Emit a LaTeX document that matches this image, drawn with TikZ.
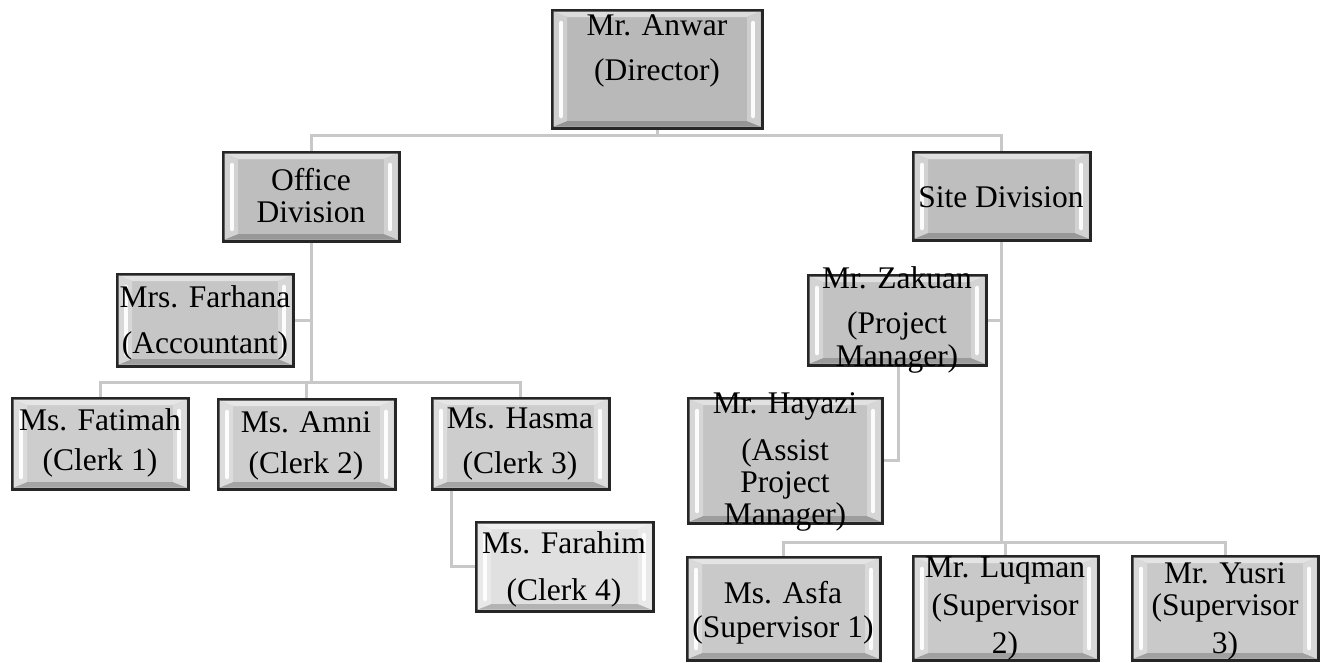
\documentclass[tikz,border=0pt]{standalone}
\usepackage{fontspec}
\setmainfont{Liberation Serif}
\usetikzlibrary{calc}
\definecolor{connc}{HTML}{C8C8C8}
\definecolor{dirc}{HTML}{B9B9B9}
\definecolor{divc}{HTML}{BEBEBE}
\definecolor{accc}{HTML}{C6C6C6}
\definecolor{clkc}{HTML}{CDCDCD}
\definecolor{clk4c}{HTML}{E0E0E0}
\definecolor{pmc}{HTML}{C2C2C2}
\definecolor{apmc}{HTML}{C4C4C4}
\definecolor{supc}{HTML}{C9C9C9}
\pgfdeclarelayer{bglayer}
\pgfdeclarelayer{connlayer}
\pgfsetlayers{bglayer,connlayer,main}
\tikzset{
  boxshape/.style={draw=black!85, line width=3pt, rectangle, inner sep=0pt, outer sep=0pt},
  connline/.style={draw=connc, line width=3pt},
  lbl/.style={anchor=base, inner sep=0pt, outer sep=0pt, font=\fontsize{31.5}{36}\selectfont, text=black},
}
\newcommand\orgbox[6]{%
  \node[boxshape, fill=#6, minimum width={#4-#2}, minimum height={#5-#3}] (#1) at ({(#2+#4)/2},{(#3+#5)/2}) {};
  \fill[#6!50!white] ($(#1.north west)+(1.5pt,-1.5pt)$) -- ($(#1.north east)+(-1.5pt,-1.5pt)$) -- ($(#1.north east)+(-15pt,-7pt)$) -- ($(#1.north west)+(15pt,-7pt)$) -- cycle;
  \fill[#6!80!black] ($(#1.south west)+(1.5pt,1.5pt)$) -- ($(#1.south east)+(-1.5pt,1.5pt)$) -- ($(#1.south east)+(-15pt,7pt)$) -- ($(#1.south west)+(15pt,7pt)$) -- cycle;
  \fill[#6!70!white] ($(#1.north west)+(1.5pt,-1.5pt)$) -- ($(#1.north west)+(15pt,-7pt)$) -- ($(#1.south west)+(15pt,7pt)$) -- ($(#1.south west)+(1.5pt,1.5pt)$) -- cycle;
  \fill[#6!70!white] ($(#1.north east)+(-1.5pt,-1.5pt)$) -- ($(#1.north east)+(-15pt,-7pt)$) -- ($(#1.south east)+(-15pt,7pt)$) -- ($(#1.south east)+(-1.5pt,1.5pt)$) -- cycle;
  \draw[white, line width=4.5pt, line cap=round, opacity=.95] ($(#1.north west)+(9pt,-13pt)$) -- ($(#1.south west)+(9pt,12pt)$);
  \draw[white, line width=4.5pt, line cap=round, opacity=.95] ($(#1.north east)+(-9pt,-13pt)$) -- ($(#1.south east)+(-9pt,12pt)$);
}
\newcommand\lbl[4]{\node[lbl] (#1) at (#2,#3) {#4};}
\begin{document}
\begin{tikzpicture}[x=1pt,y=-1pt]
\begin{pgfonlayer}{bglayer}
\fill[white] (0,0) rectangle (1325,662);
\end{pgfonlayer}
\useasboundingbox (0,0) rectangle (1325,662);
% boxes
\orgbox{dir}{552}{10}{762}{128}{dirc}
\orgbox{off}{223}{152}{399}{241}{divc}
\orgbox{site}{913}{152}{1090}{240}{divc}
\orgbox{farh}{117}{274}{293}{366}{accc}
\orgbox{fat}{12}{398}{188}{489}{clkc}
\orgbox{amni}{218}{399}{395}{489}{clkc}
\orgbox{hasma}{432}{398}{609}{489}{clkc}
\orgbox{farah}{476}{522}{653}{611}{clk4c}
\orgbox{zak}{808}{275}{986}{365}{pmc}
\orgbox{hay}{688}{398}{882}{523}{apmc}
\orgbox{asfa}{687}{557}{880}{660}{supc}
\orgbox{luq}{913}{556}{1098}{660}{supc}
\orgbox{yus}{1132}{556}{1318}{660}{supc}
% connectors
\begin{pgfonlayer}{connlayer}
\draw[connline] (dir.south) -- ++(0,7) coordinate (dbus);
\draw[connline] (off.north) |- (dbus) -| (site.north);
\coordinate (obus) at (311,382);
\draw[connline] (off.south) -- (off.south |- obus);
\draw[connline] (farh.east) -- (farh.east -| off.south);
\draw[connline] (fat.north) -- (fat.north |- obus) -- (hasma.north |- obus) -- (hasma.north);
\draw[connline] (amni.north) -- (amni.north |- obus);
\draw[connline] ($(hasma.south west)+(19pt,0)$) |- (farah.west);
\coordinate (sbus) at (1003,542);
\draw[connline] (site.south) -- (site.south |- sbus);
\draw[connline] (zak.east) -- (zak.east -| site.south);
\draw[connline] ($(zak.south west)+(90pt,0)$) |- (hay.east);
\draw[connline] (asfa.north) -- (asfa.north |- sbus) -- (yus.north |- sbus) -- (yus.north);
\draw[connline] (luq.north) -- (luq.north |- sbus);
\end{pgfonlayer}
% labels
\lbl{dirA}{657}{35}{Mr. Anwar}
\lbl{dirB}{657}{80}{(Director)}
\lbl{offA}{311}{190}{Office}
\lbl{offB}{311}{222}{Division}
\lbl{siteA}{1001}{207}{Site Division}
\lbl{farhA}{205}{307}{Mrs. Farhana}
\lbl{farhB}{205}{353}{(Accountant)}
\lbl{fatA}{100}{430}{Ms. Fatimah}
\lbl{fatB}{100}{470}{(Clerk 1)}
\lbl{amniA}{306}{432}{Ms. Amni}
\lbl{amniB}{306}{473}{(Clerk 2)}
\lbl{hasmaA}{520}{428}{Ms. Hasma}
\lbl{hasmaB}{520}{473}{(Clerk 3)}
\lbl{farahA}{564}{553}{Ms. Farahim}
\lbl{farahB}{564}{600}{(Clerk 4)}
\lbl{zakA}{897}{288}{Mr. Zakuan}
\lbl{zakB}{897}{333}{(Project}
\lbl{zakC}{897}{366}{Manager)}
\lbl{hayA}{785}{413}{Mr. Hayazi}
\lbl{hayB}{785}{460}{(Assist}
\lbl{hayC}{785}{492}{Project}
\lbl{hayD}{785}{524}{Manager)}
\lbl{asfaA}{783}{603}{Ms. Asfa}
\lbl{asfaB}{783}{637}{(Supervisor 1)}
\lbl{luqA}{1005}{577}{Mr. Luqman}
\lbl{luqB}{1005}{615}{(Supervisor}
\lbl{luqC}{1005}{653}{2)}
\lbl{yusA}{1225}{583}{Mr. Yusri}
\lbl{yusB}{1225}{615}{(Supervisor}
\lbl{yusC}{1225}{653}{3)}
\end{tikzpicture}
\end{document}
